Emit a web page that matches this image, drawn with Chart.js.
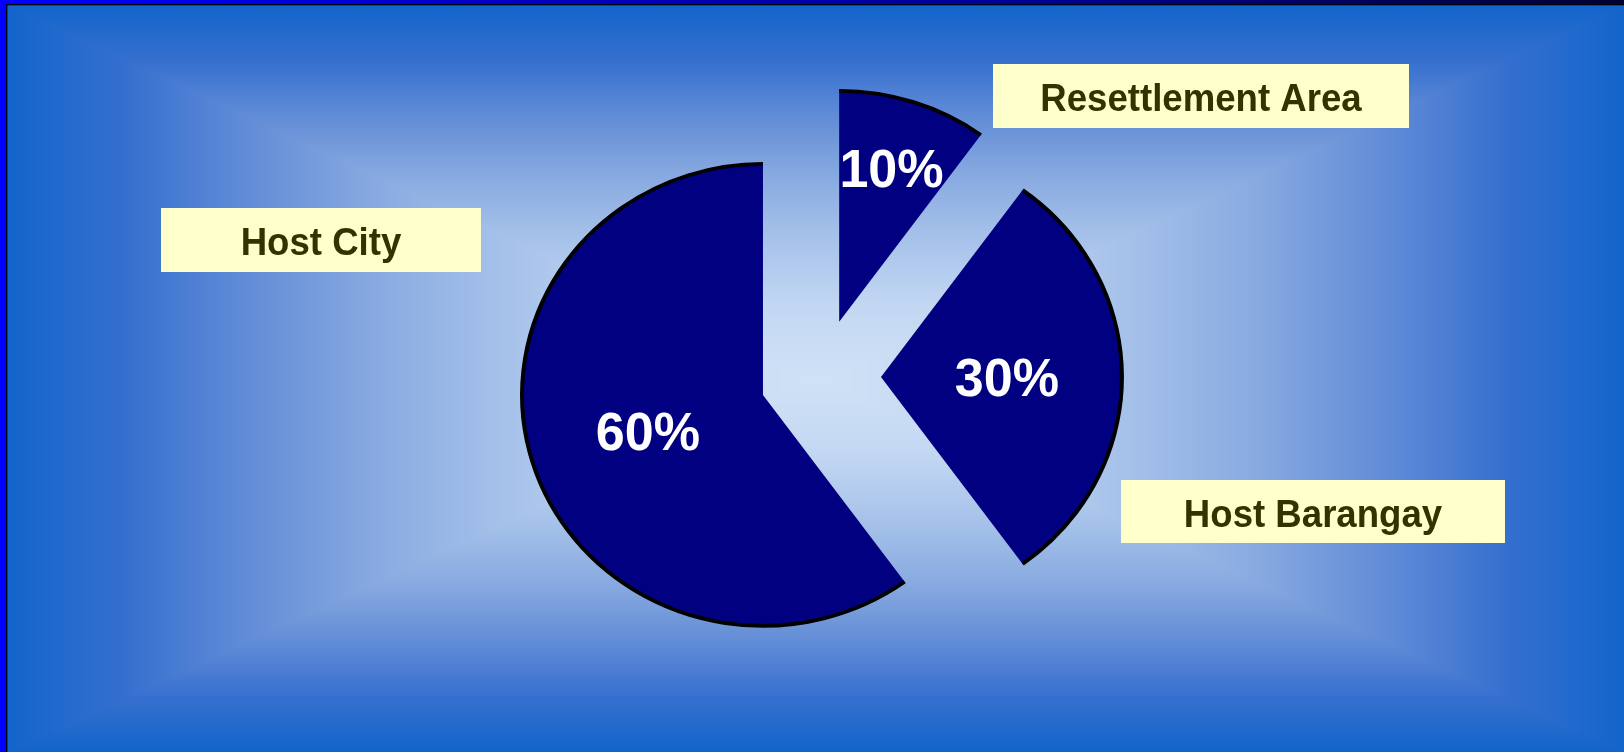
<!DOCTYPE html>
<html>
<head>
<meta charset="utf-8">
<script src="https://cdn.jsdelivr.net/npm/chart.js@4.4.1/dist/chart.umd.min.js"></script>
<style>
html, body { margin: 0; padding: 0; background: #1264cb; overflow: hidden; }
#wrap { position: relative; width: 1624px; height: 752px; }
canvas { display: block; }
</style>
</head>
<body>
<div id="wrap"><canvas id="c" width="1624" height="752"></canvas></div>
<script>
// ---- data ----
const categories = ['Resettlement Area', 'Host Barangay', 'Host City'];
const shares = [10, 30, 60];
const percentLabels = shares.map(v => v + '%');

// ---- styling / layout (not data) ----
const SLICE_COLOR = '#000080';
const EXPLODE = 58;
const RADIUS = 232;
const STRETCH_X = 1.043;
const labelRadiusFactor = [0.70, 0.52, 0.50];
const boxLayout = {
  'Resettlement Area': { x: 993, y: 64, w: 416, h: 64 },
  'Host Barangay': { x: 1121, y: 480, w: 384, h: 63 },
  'Host City': { x: 161, y: 208, w: 320, h: 64 }
};
const FONT = '"Liberation Sans", Arial, Helvetica, sans-serif';

function drawText(ctx, txt, x, y, font, color, sx) {
  ctx.save();
  ctx.translate(x, y);
  ctx.scale(sx, 1);
  ctx.font = font;
  ctx.fillStyle = color;
  ctx.textAlign = 'center';
  ctx.textBaseline = 'alphabetic';
  ctx.fillText(txt, 0, 0);
  ctx.restore();
}

function hexRgb(h) {
  return [parseInt(h.slice(1, 3), 16), parseInt(h.slice(3, 5), 16), parseInt(h.slice(5, 7), 16)];
}
const bgStops = [
  [0.00, '#d0e2f6'], [0.20, '#c2d7f2'], [0.40, '#a3bfe9'], [0.55, '#87a9e0'],
  [0.65, '#6f96d9'], [0.75, '#5583d5'], [0.85, '#3670cf'], [1.00, '#1264cb']
].map(([t, c]) => [t, hexRgb(c)]);
function bgColor(t) {
  if (t <= 0) return bgStops[0][1];
  for (let i = 1; i < bgStops.length; i++) {
    if (t <= bgStops[i][0]) {
      const [t0, c0] = bgStops[i - 1], [t1, c1] = bgStops[i];
      const f = (t - t0) / (t1 - t0);
      return [c0[0] + (c1[0] - c0[0]) * f, c0[1] + (c1[1] - c0[1]) * f, c0[2] + (c1[2] - c0[2]) * f];
    }
  }
  return bgStops[bgStops.length - 1][1];
}
let bgCache = null;
function buildBackground(W, H) {
  const off = document.createElement('canvas');
  off.width = W; off.height = H;
  const octx = off.getContext('2d');
  const img = octx.createImageData(W, H);
  const d = img.data;
  const x0 = 7, y0 = 5, x1 = W, y1 = H, cx = 815, cy = 380;
  for (let y = 0; y < H; y++) {
    const ty = y < cy ? (cy - y) / (cy - y0) : (y - cy) / (y1 - cy);
    for (let x = 0; x < W; x++) {
      const tx = x < cx ? (cx - x) / (cx - x0) : (x - cx) / (x1 - cx);
      const c = bgColor(Math.max(tx, ty));
      const k = (y * W + x) * 4;
      d[k] = c[0]; d[k + 1] = c[1]; d[k + 2] = c[2]; d[k + 3] = 255;
    }
  }
  octx.putImageData(img, 0, 0);
  // frame
  octx.fillStyle = '#0000ff';
  octx.fillRect(0, 0, 6, H);
  const tg = octx.createLinearGradient(0, 0, W, 0);
  tg.addColorStop(0, '#0000ff');
  tg.addColorStop(0.3, '#0000c8');
  tg.addColorStop(0.62, '#000099');
  tg.addColorStop(1, '#000033');
  octx.fillStyle = tg;
  octx.fillRect(6, 0, W, 4);
  octx.fillStyle = '#000010';
  octx.fillRect(6, 4, 1.4, H);
  octx.fillRect(6, 4, W, 1.3);
  return off;
}

const bgPlugin = {
  id: 'bg',
  beforeDraw(chart) {
    const W = chart.width, H = chart.height;
    if (!bgCache || bgCache.width !== W || bgCache.height !== H) bgCache = buildBackground(W, H);
    chart.ctx.drawImage(bgCache, 0, 0, W, H);
  }
};

const explodePlugin = {
  id: 'explode',
  afterDatasetsUpdate(chart) {
    const meta = chart.getDatasetMeta(0);
    meta.data.forEach(arc => {
      const mid = (arc.startAngle + arc.endAngle) / 2;
      arc.x += Math.cos(mid) * EXPLODE;
      arc.y += Math.sin(mid) * EXPLODE;
    });
  },
  beforeDatasetsDraw(chart) {
    const ctx = chart.ctx, a = chart.chartArea;
    const cx = (a.left + a.right) / 2;
    ctx.save();
    ctx.translate(cx, 0);
    ctx.scale(STRETCH_X, 1);
    ctx.translate(-cx, 0);
  },
  afterDatasetsDraw(chart) {
    const ctx = chart.ctx;
    const meta = chart.getDatasetMeta(0);
    ctx.lineWidth = 3.8;
    ctx.strokeStyle = '#000000';
    meta.data.forEach(arc => {
      ctx.beginPath();
      ctx.arc(arc.x, arc.y, arc.outerRadius - 1, arc.startAngle, arc.endAngle);
      ctx.stroke();
    });
    ctx.restore();
  },
  afterDraw(chart) {
    const ctx = chart.ctx, a = chart.chartArea;
    const cx = (a.left + a.right) / 2;
    const meta = chart.getDatasetMeta(0);
    meta.data.forEach((arc, i) => {
      const mid = (arc.startAngle + arc.endAngle) / 2;
      const r = arc.outerRadius * labelRadiusFactor[i];
      const px = cx + STRETCH_X * (arc.x + Math.cos(mid) * r - cx);
      const py = arc.y + Math.sin(mid) * r;
      drawText(ctx, percentLabels[i], px, py + 0.358 * 54, 'bold 54px ' + FONT, '#ffffff', 0.965);
      const b = boxLayout[categories[i]];
      ctx.fillStyle = '#ffffcc';
      ctx.fillRect(b.x, b.y, b.w, b.h);
      drawText(ctx, categories[i], b.x + b.w / 2, b.y + 46.5, 'bold 38px ' + FONT, '#333300', 0.963);
    });
  }
};

new Chart(document.getElementById('c'), {
  type: 'pie',
  data: {
    labels: categories,
    datasets: [{
      data: shares,
      backgroundColor: SLICE_COLOR,
      borderWidth: 0,
      radius: RADIUS
    }]
  },
  options: {
    responsive: false,
    animation: false,
    events: [],
    radius: RADIUS,
    layout: { padding: { left: 17, right: 0, top: 2, bottom: 0 } },
    plugins: {
      legend: { display: false },
      tooltip: { enabled: false }
    }
  },
  plugins: [bgPlugin, explodePlugin]
});
</script>
</body>
</html>
